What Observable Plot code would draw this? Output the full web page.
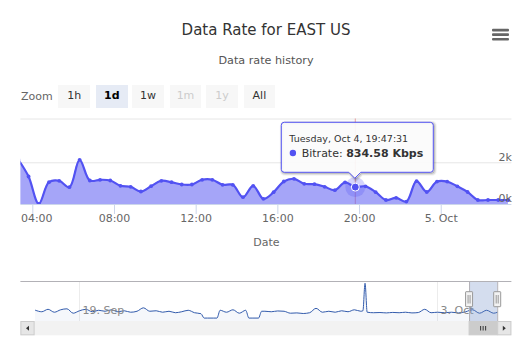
<!DOCTYPE html>
<html><head><meta charset="utf-8">
<script src="https://cdn.jsdelivr.net/npm/d3@7"></script>
<script src="https://cdn.jsdelivr.net/npm/@observablehq/plot@0.6"></script>
<style>
html,body{margin:0;padding:0;background:#fff;}
#wrap{position:relative;width:532px;height:359px;overflow:hidden;font-family:"DejaVu Sans",sans-serif;}
.abs{position:absolute;}
#title{left:0;width:532px;top:21px;line-height:18px;text-align:center;font-size:15px;color:#333;}
#subtitle{left:0;width:532px;top:53.5px;line-height:14px;text-align:center;font-size:11.2px;color:#555;}
#zoomlbl{left:21px;top:89px;line-height:16px;font-size:11px;color:#666;}
.btn{top:84.8px;height:22.8px;width:31.6px;line-height:22.8px;text-align:center;font-size:11px;background:#f7f7f7;color:#333;}
.btn.sel{background:#e6ebf5;color:#000;font-weight:bold;}
.btn.dis{color:#cccccc;}
#main{left:0;top:112px;}
#nav{left:0;top:270px;}
</style></head>
<body><div id="wrap">
<div id="title" class="abs"></div>
<div id="subtitle" class="abs"></div>
<svg class="abs" style="left:492px;top:28px" width="18" height="14"><g fill="#666"><rect x="0" y="0.8" width="17" height="2.6" rx="1"/><rect x="0" y="5.3" width="17" height="2.6" rx="1"/><rect x="0" y="10" width="17" height="2.6" rx="1"/></g></svg>
<div id="zoomlbl" class="abs">Zoom</div>
<div id="btns"></div>
<div id="main" class="abs"></div>
<div id="nav" class="abs"></div>
</div>
<script>
// ---------- data ----------
const titleText = "Data Rate for EAST US";
const subtitleText = "Data rate history";
const seriesName = "Bitrate";
const unit = "Kbps";
const zoomButtons = ["1h", "1d", "1w", "1m", "1y", "All"];
const zoomSelected = "1d";
const zoomDisabled = ["1m", "1y"];

// detail view: one point every 30 minutes (times at :17:31 / :47:31)
const pointTimes = ["10-04 03:17","10-04 03:47","10-04 04:17","10-04 04:47","10-04 05:17","10-04 05:47","10-04 06:17","10-04 06:47","10-04 07:17","10-04 07:47","10-04 08:17","10-04 08:47","10-04 09:17","10-04 09:47","10-04 10:17","10-04 10:47","10-04 11:17","10-04 11:47","10-04 12:17","10-04 12:47","10-04 13:17","10-04 13:47","10-04 14:17","10-04 14:47","10-04 15:17","10-04 15:47","10-04 16:17","10-04 16:47","10-04 17:17","10-04 17:47","10-04 18:17","10-04 18:47","10-04 19:17","10-04 19:47","10-04 20:17","10-04 20:47","10-04 21:17","10-04 21:47","10-04 22:17","10-04 22:47","10-04 23:17","10-04 23:47","10-05 00:17","10-05 00:47","10-05 01:17","10-05 01:47","10-05 02:17","10-05 02:47","10-05 03:17"];
const bitrate = [2150,1343,30,1070,1137,830,2144,1151,1185,1151,897,849,623,878,1137,1070,959,959,1185,1185,945,945,350,897,273,590,1103,1233,993,974,849,686,1060,834.58,870,590,215,320,140,1120,600,1100,1100,870,600,215,215,215,215];
const hoverTime = "10-04 19:47";

const viewStart = "10-04 03:25:00";
const viewEnd = "10-05 03:27:40";
const yMax = 4100;
const yTicks = [0, 2000];
const yTickLabels = ["0k", "2k"];
const xTickTimes = ["10-04 04:00","10-04 08:00","10-04 12:00","10-04 16:00","10-04 20:00","10-05 00:00"];
const xTickLabels = ["04:00","08:00","12:00","16:00","20:00","5. Oct"];
const xTitle = "Date";

// navigator (whole history, grouped)
const navTimes = ["09-17 06:00","09-17 12:00","09-17 18:00","09-18 00:00","09-18 06:00","09-18 12:00","09-18 18:00","09-19 00:00",
"09-19 06:00","09-19 12:00","09-19 18:00","09-20 00:00","09-20 06:00","09-20 12:00","09-20 18:00","09-21 00:00","09-21 06:00","09-21 12:00","09-21 18:00",
"09-22 00:00","09-22 06:00","09-22 12:00","09-22 18:00","09-23 00:00","09-23 06:00","09-23 12:00","09-23 18:00","09-23 21:00","09-24 00:00","09-24 06:00","09-24 09:00",
"09-24 12:00","09-24 18:00","09-25 00:00","09-25 06:00","09-25 12:00","09-25 15:00","09-25 18:00","09-26 00:00","09-26 03:00","09-26 06:00","09-26 12:00","09-26 18:00",
"09-27 00:00","09-27 06:00","09-27 12:00","09-27 18:00","09-28 00:00","09-28 06:00","09-28 12:00","09-28 18:00","09-29 00:00","09-29 06:00","09-29 12:00","09-29 18:00",
"09-30 00:00","09-30 02:00","09-30 04:00","09-30 06:00","09-30 12:00","09-30 18:00","10-01 00:00","10-01 06:00","10-01 12:00","10-01 18:00",
"10-02 00:00","10-02 06:00","10-02 12:00","10-02 18:00","10-03 00:00","10-03 06:00","10-03 12:00","10-03 18:00","10-04 00:00","10-04 06:00","10-04 12:00","10-04 18:00","10-05 00:00","10-05 03:17"];
const navValues = [1150,1000,1250,950,1200,1300,850,1100,
1250,1000,1150,1050,1200,1000,1100,950,1050,1400,1050,
1100,950,1050,900,1000,1150,900,800,350,350,350,350,
1150,950,1200,850,1150,350,350,350,1050,1050,1000,1080,
1050,850,880,820,900,1350,950,1050,950,1100,1000,1200,
1050,1100,3920,950,900,920,880,930,900,950,
880,920,1250,900,950,900,950,880,1000,1200,850,1150,850,950];
const navTickTimes = ["09-19 00:00","10-03 00:00"];
const navTickLabels = ["19. Sep","3. Oct"];
const navYMax = 4100;
// ordinal-like axis anchors (positions of the navigator's time stops)
const navAnchorTimes = ["09-17 06:00","09-19 00:00","10-03 00:00","10-05 03:17"];

// ---------- helpers ----------
const T = (s, sec) => new Date(`2016-${s.replace(" ", "T")}:${sec}Z`);
const FONT = '"DejaVu Sans", sans-serif';
const C = "#5252f2";

document.getElementById("title").textContent = titleText;
document.getElementById("subtitle").textContent = subtitleText;
const btnLeft = [58.4, 96, 132.3, 169.7, 206.3, 243.6];
zoomButtons.forEach((b, i) => {
  const d = document.createElement("div");
  d.className = "abs btn" + (b === zoomSelected ? " sel" : "") + (zoomDisabled.includes(b) ? " dis" : "");
  d.style.left = btnLeft[i] + "px";
  d.textContent = b;
  document.getElementById("btns").appendChild(d);
});

const series = pointTimes.map((s, i) => ({t: T(s, "31"), v: bitrate[i]}));
const hover = series.find(d => +d.t === +T(hoverTime, "31"));
const vStart = new Date(`2016-${viewStart.replace(" ", "T")}Z`);
const vEnd = new Date(`2016-${viewEnd.replace(" ", "T")}Z`);
const xTicks = xTickTimes.map(s => T(s, "00"));

const mainPlot = Plot.plot({
  width: 532, height: 146,
  marginLeft: 20.4, marginRight: 20.6, marginTop: 6.5, marginBottom: 54,
  style: {fontFamily: FONT, fontSize: "11px", background: "transparent", overflow: "visible"},
  x: {type: "utc", domain: [vStart, vEnd], axis: null},
  y: {domain: [0, yMax], axis: null},
  marks: [
    Plot.ruleY([yMax, ...yTicks.filter(v => v > 0)], {stroke: "#e6e6e6"}),
    Plot.ruleX([hover], {x: "t", stroke: "#cc0000", strokeOpacity: 0.35}),
    Plot.areaY(series, {x: "t", y: "v", curve: "catmull-rom", fill: C, fillOpacity: 0.52, clip: true}),
    Plot.lineY(series, {x: "t", y: "v", curve: "catmull-rom", stroke: C, strokeWidth: 2.2, clip: true}),
    Plot.dot(series, {x: "t", y: "v", r: 1.9, fill: C, clip: true}),
    Plot.ruleY([0], {stroke: "#ccd6eb"}),
    Plot.axisX(xTicks, {tickSize: 10, tickFormat: () => "", color: "#ccd6eb", label: null}),
    Plot.text([xTickLabels[0]], {x: () => vStart, text: d => d, frameAnchor: "bottom", textAnchor: "start", dy: 17.5, fill: "#666", fontSize: 11}),
    Plot.text(xTicks.slice(1), {x: d => d, text: (d, i) => xTickLabels[i + 1], frameAnchor: "bottom", dy: 17.5, fill: "#666", fontSize: 11}),
    Plot.text([xTitle], {text: d => d, frameAnchor: "bottom", dy: 41.7, fill: "#666", fontSize: 11}),
    Plot.text(yTicks, {x: () => vEnd, y: d => d, text: (d, i) => yTickLabels[i], textAnchor: "end", dy: -5.8, fill: "#666", fontSize: 11}),
    Plot.dot([hover], {x: "t", y: "v", r: 10, fill: C, fillOpacity: 0.25}),
    Plot.dot([hover], {x: "t", y: "v", r: 4, fill: C, stroke: "white", strokeWidth: 1})
  ]
});
document.getElementById("main").appendChild(mainPlot);

// tooltip
{
  const sx = mainPlot.scale("x"), sy = mainPlot.scale("y");
  const px = sx.apply(hover.t), py = sy.apply(hover.v);
  const L = px - 73.5, R = px + 78.5, Tp = py - 64.3, B = py - 14.3, tipY = py - 8.3, r = 3;
  const d = `M${L + r},${Tp} H${R - r} Q${R},${Tp} ${R},${Tp + r} V${B - r} Q${R},${B} ${R - r},${B} H${px + 6} L${px},${tipY} L${px - 6},${B} H${L + r} Q${L},${B} ${L},${B - r} V${Tp + r} Q${L},${Tp} ${L + r},${Tp} Z`;
  const svg = d3.select(mainPlot);
  const g = svg.append("g").attr("font-family", FONT).attr("text-anchor", "start");
  [[5, 0.05], [3, 0.1], [1, 0.15]].forEach(([w, o]) => g.append("path").attr("d", d).attr("transform", "translate(1,1)").attr("fill", "none").attr("stroke", "black").attr("stroke-opacity", o).attr("stroke-width", w));
  g.append("path").attr("d", d).attr("fill", "rgba(251,251,251,0.92)").attr("stroke", C).attr("stroke-width", 1);
  g.append("text").attr("x", L + 8).attr("y", Tp + 20).attr("font-size", 9.5).attr("fill", "#333").attr("text-anchor", "start").text(d3.utcFormat("%A, %b %-d, %H:%M:%S")(hover.t));
  g.append("circle").attr("cx", L + 11.6).attr("cy", Tp + 30.7).attr("r", 3.2).attr("fill", C);
  const t2 = g.append("text").attr("x", L + 20.4).attr("y", Tp + 34.7).attr("font-size", 11).attr("fill", "#333").attr("text-anchor", "start");
  t2.append("tspan").text(seriesName + ": ");
  t2.append("tspan").attr("font-weight", "bold").text(`${hover.v.toFixed(2)} ${unit}`);
}

// ---------- navigator ----------
const nav = navTimes.map((s, i) => ({t: T(s, s === "10-05 03:17" ? "31" : "00"), v: navValues[i]}));
const navTicks = navTickTimes.map(s => T(s, "00"));
const anchors = navAnchorTimes.map(s => T(s, s === "10-05 03:17" ? "31" : "00"));
const navPlot = Plot.plot({
  width: 532, height: 75,
  marginLeft: 20.4, marginRight: 20.6, marginTop: 11, marginBottom: 24,
  style: {fontFamily: FONT, fontSize: "11px", background: "transparent", overflow: "visible"},
  x: {type: "utc", domain: anchors, range: [35, 79, 437, 497], axis: null},
  y: {domain: [0, navYMax], axis: null},
  marks: [
    Plot.ruleX(navTicks, {stroke: "#ececec"}),
    Plot.areaY(nav, {x: "t", y: "v", curve: "monotone-x", fill: "#335cad", fillOpacity: 0.05}),
    Plot.lineY(nav, {x: "t", y: "v", curve: "monotone-x", stroke: "#335cad", strokeWidth: 1}),
    Plot.text(navTicks, {x: d => d, text: (d, i) => navTickLabels[i], frameAnchor: "bottom", textAnchor: "start", dx: 3, dy: -7.5, fill: "#888", fontSize: 11}),
    Plot.rect([{a: vStart, b: vEnd}], {x1: "a", x2: "b", fill: "#6685c2", fillOpacity: 0.28}),
    Plot.ruleY([navYMax], {stroke: "#b2b1b6"}),
    Plot.ruleX([vStart, vEnd], {stroke: "#b2b1b6"})
  ]
});
document.getElementById("nav").appendChild(navPlot);
{
  const sx = navPlot.scale("x");
  const a = sx.apply(vStart), b = sx.apply(vEnd);
  const svg = d3.select(navPlot);
  const top = 51, h = 14.3, left = 20.4, right = 511.4, bw = 14.2;
  const g = svg.append("g");
  g.append("rect").attr("x", left).attr("y", top).attr("width", right - left).attr("height", h).attr("fill", "#f2f2f2");
  g.append("rect").attr("x", a).attr("y", top + 0.5).attr("width", b - a).attr("height", h - 1).attr("fill", "#cccccc").attr("stroke", "#cccccc");
  [-2.5, 0, 2.5].forEach(o => g.append("line").attr("x1", (a + b) / 2 + o).attr("x2", (a + b) / 2 + o).attr("y1", top + 5).attr("y2", top + 9.5).attr("stroke", "#333").attr("stroke-width", 1));
  [[left, -1], [right - bw, 1]].forEach(([x, dir]) => {
    g.append("rect").attr("x", x + 0.5).attr("y", top + 0.5).attr("width", bw - 1).attr("height", h - 1).attr("fill", "#e6e6e6").attr("stroke", "#cccccc");
    const cx = x + bw / 2, cy = top + h / 2;
    g.append("path").attr("d", `M${cx + 1.5 * dir},${cy} L${cx - 1.5 * dir},${cy - 2.5} L${cx - 1.5 * dir},${cy + 2.5} Z`).attr("fill", "#333");
  });
  [a, b].forEach(x => {
    g.append("rect").attr("x", x - 3.5).attr("y", 21.7).attr("width", 7).attr("height", 15).attr("fill", "#f2f2f2").attr("stroke", "#999").attr("rx", 0.5);
    [-1, 1].forEach(o => g.append("line").attr("x1", x + o).attr("x2", x + o).attr("y1", 25).attr("y2", 33.5).attr("stroke", "#999"));
  });
}
</script>
</body></html>
